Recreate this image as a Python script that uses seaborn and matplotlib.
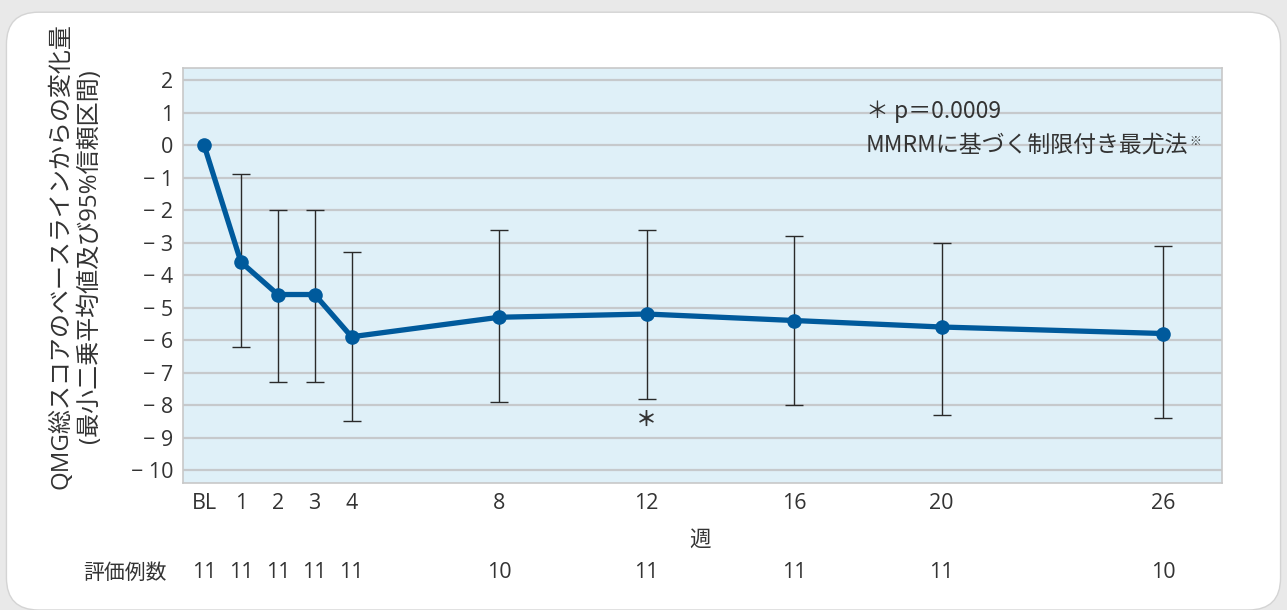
import numpy as np
import pandas as pd
import matplotlib
matplotlib.use("Agg")
import matplotlib.pyplot as plt
import seaborn as sns
from matplotlib.patches import FancyBboxPatch

# data
weeks = [0, 1, 2, 3, 4, 8, 12, 16, 20, 26]
week_labels = ["BL", "1", "2", "3", "4", "8", "12", "16", "20", "26"]
ls_mean = [0.0, -3.6, -4.6, -4.6, -5.9, -5.3, -5.2, -5.4, -5.6, -5.8]
ci_low = [np.nan, -6.2, -7.3, -7.3, -8.5, -7.9, -7.8, -8.0, -8.3, -8.4]
ci_high = [np.nan, -0.9, -2.0, -2.0, -3.3, -2.6, -2.6, -2.8, -3.0, -3.1]
n_eval = [11, 11, 11, 11, 11, 10, 11, 11, 11, 10]
yticks = list(range(2, -11, -1))

df = pd.DataFrame({"week": weeks, "mean": ls_mean, "lo": ci_low, "hi": ci_high})

sns.set_theme(style="white")
plt.rcParams["font.family"] = ["Open Sans", "Noto Sans CJK JP", "DejaVu Sans"]
cjk = ["Noto Sans CJK JP", "DejaVu Sans"]
txt = "#333333"
blue = "#005a9c"

fig = plt.figure(figsize=(12.87, 6.10), dpi=100)
fig.patch.set_facecolor("#e9e9e9")
card = FancyBboxPatch((0.005, 0.0), 0.99, 0.98, boxstyle="round,pad=0,rounding_size=0.025",
                      transform=fig.transFigure, facecolor="white", edgecolor="#d4d4d4",
                      linewidth=1.0, zorder=-10, mutation_aspect=1287 / 610)
fig.patches.append(card)

ax = fig.add_axes([0.1422, 0.2082, 0.8073, 0.6803])
ax.set_facecolor("#dff0f8")
for s in ax.spines.values():
    s.set_color("#c8c8c8")
    s.set_linewidth(1.2)

for y in yticks:
    ax.axhline(y, color="#c6c9cc", linewidth=1.6, zorder=1)

# error bars
yerr = np.array([df["mean"] - df["lo"], df["hi"] - df["mean"]])
ax.errorbar(df["week"], df["mean"], yerr=yerr, fmt="none", ecolor="#2a2a2a",
            elinewidth=1.0, capsize=6.5, capthick=1.0, zorder=2)

sns.lineplot(data=df, x="week", y="mean", ax=ax, color=blue, linewidth=3.8,
             marker="o", markersize=10.5, markeredgewidth=0, zorder=3)

ax.set_xlim(-0.57, 27.6)
ax.set_ylim(-10.4, 2.37)
ax.set_xticks(weeks)
ax.set_xticklabels(week_labels, fontsize=15.5, color=txt)
ax.set_yticks(yticks)
ax.set_yticklabels([f"{v}".replace("-", "− ") for v in yticks], fontsize=15.5, color=txt)
ax.tick_params(axis="both", length=0, pad=7)
ax.set_xlabel("")
ax.set_ylabel("")

ax.text(12, -8.45, "＊", ha="center", va="center", fontsize=15, color=txt,
        family=cjk, fontweight="bold")
ax.text(0.657, 0.895, "＊ p＝0.0009", transform=ax.transAxes, fontsize=16.5, color=txt,
        va="center", ha="left", family=cjk)
note = ax.text(0.657, 0.815, "MMRMに基づく制限付き最尤法", transform=ax.transAxes, fontsize=16.5,
               color=txt, va="center", ha="left", family=cjk)
fig.canvas.draw()
bb = note.get_window_extent().transformed(ax.transAxes.inverted())
ax.text(bb.x1 + 0.001, 0.823, "※", transform=ax.transAxes, fontsize=8.5, color=txt,
        va="center", ha="left", family=cjk)

fig.text(0.048, 0.58, "QMG総スコアのベースラインからの変化量", rotation=90, ha="center",
         va="center", fontsize=17.3, color=txt)
fig.text(0.07, 0.58, "(最小二乗平均値及び95%信頼区間)", rotation=90, ha="center",
         va="center", fontsize=17.3, color=txt)

fig.text(700 / 1287, 1 - 540 / 610, "週", ha="center", va="center", fontsize=15.5, color=txt)
fig.text(125 / 1287, 1 - 573 / 610, "評価例数", ha="center", va="center", fontsize=15, color=txt)
for w, n in zip(weeks, n_eval):
    xf = fig.transFigure.inverted().transform(ax.transData.transform((w, 0)))[0]
    fig.text(xf, 1 - 573 / 610, str(n), ha="center", va="center", fontsize=15.5, color=txt)

fig.savefig("out.png", dpi=100, facecolor=fig.get_facecolor())
